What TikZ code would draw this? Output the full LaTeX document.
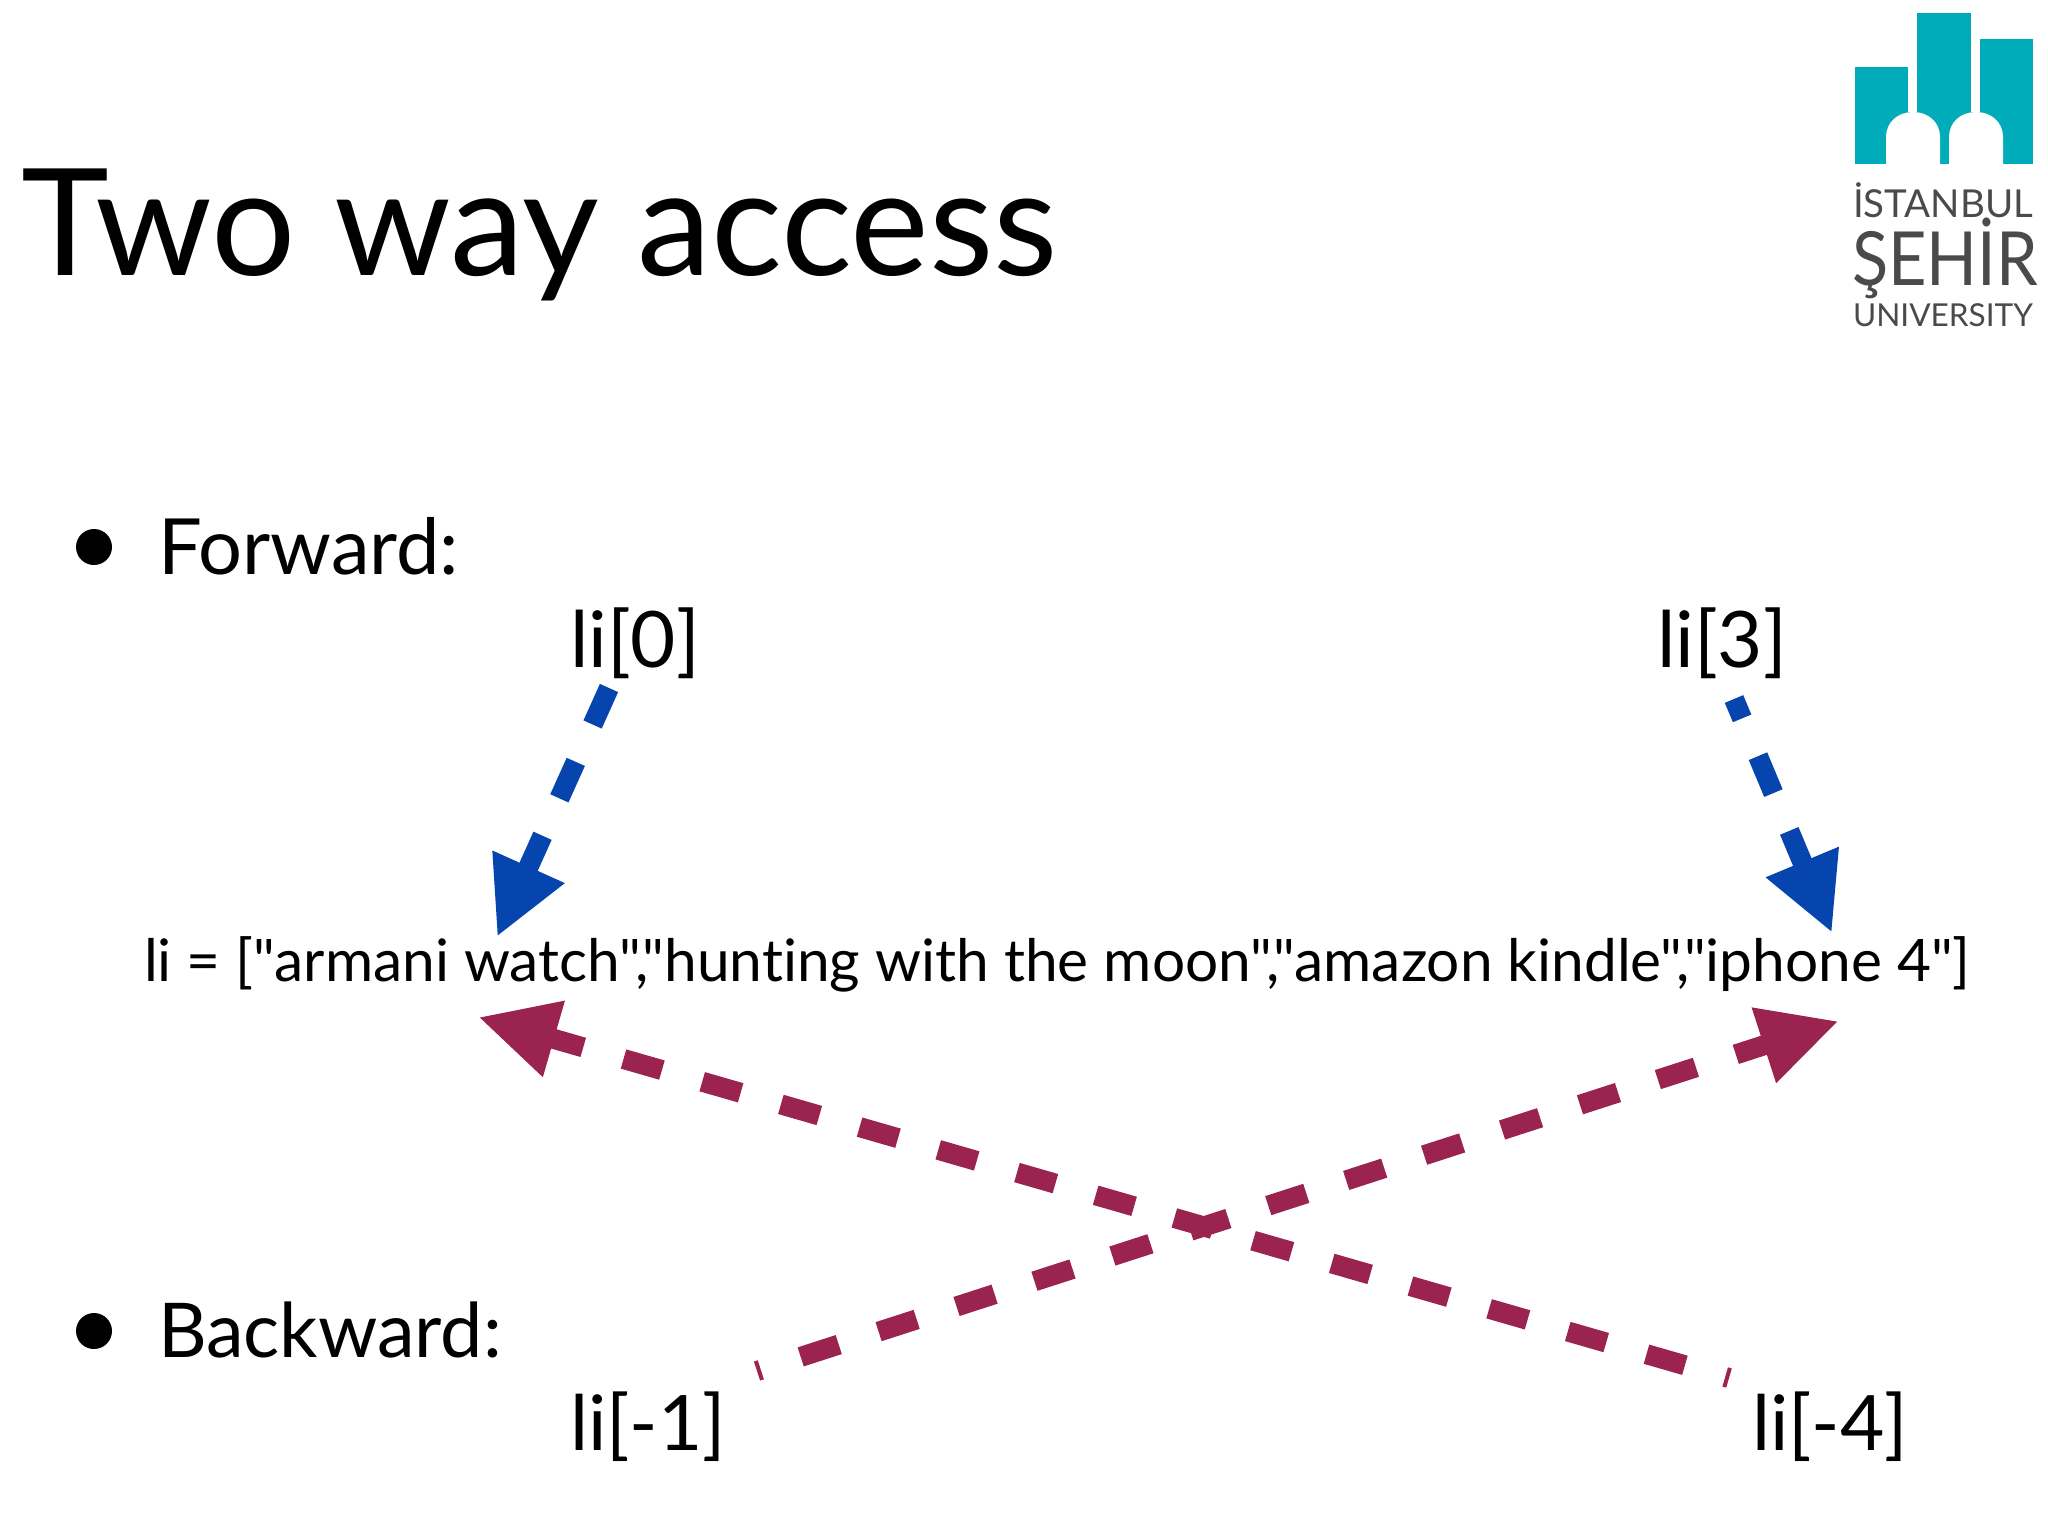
\documentclass[tikz,border=0pt]{standalone}
\usepackage{fontspec}
\usetikzlibrary{arrows.meta}
\setmainfont{Lato}[Ligatures={TeXOff,CommonOff}]
\definecolor{fwdblue}{HTML}{0645AD}
\definecolor{backred}{HTML}{9A2350}
\definecolor{logoteal}{HTML}{00ABBA}
\definecolor{logogray}{HTML}{4A4A4A}
\newcommand{\fit}[2]{\resizebox{#1pt}{!}{\strut #2}}
\tikzset{
  x=0.5pt,y=-0.5pt,
  txt/.style={inner sep=0pt,outer sep=0pt,anchor=base west,text=black},
  logotxt/.style={inner sep=0pt,outer sep=0pt,anchor=base west,text=logogray},
  bulletdot/.style={circle,fill=black,inner sep=0pt,minimum size=18pt},
  fwdarrow/.style={draw=fwdblue,line width=10pt,dash pattern=on 20pt off 20.5pt,-{Triangle[length=38.5pt,width=36.7pt,fill=fwdblue]}},
  backarrow/.style={draw=backred,line width=10pt,dash pattern=on 20pt off 20.95pt,dash phase=18pt,-{Triangle[length=39.5pt,width=36.7pt,fill=backred]}},
  logofill/.style={fill=logoteal,draw=none},
}
\begin{document}
\begin{tikzpicture}
\useasboundingbox (0,0) rectangle (2048,1536);
% logo
\fill[logofill] (1855,67) rectangle (1908,164);
\fill[logofill] (1917,13) rectangle (1971,164);
\fill[logofill] (1980,39) rectangle (2033,164);
\fill[logofill] (1855,112) rectangle (2033,164);
\fill[white] (1886,165) -- (1886,137) .. controls (1886,122) and (1898,112) .. (1913,112) .. controls (1928,112) and (1940,122) .. (1940,137) -- (1940,165) -- cycle;
\fill[white] (1949,165) -- (1949,137) .. controls (1949,122) and (1961,112) .. (1976,112) .. controls (1991,112) and (2003,122) .. (2003,137) -- (2003,165) -- cycle;
\node[logotxt] (logoa) at (1853,217) {\fit{90}{İSTANBUL}};
\node[logotxt] (logob) at (1852,285) {\scalebox{1}[1.12]{\fit{93}{ŞEHİR}}};
\node[logotxt] (logoc) at (1853,326) {\fit{90}{UNIVERSITY}};
% text
\node[txt] (title) at (21,275) {\fit{518}{Two way access}};
\node[bulletdot] (b1) at (94,547) {};
\node[txt] (fwd) at (158,574) {\fit{150.5}{Forward:}};
\node[bulletdot] (b2) at (94,1331) {};
\node[txt] (bwd) at (158,1357) {\fit{172}{Backward:}};
\node[txt] (li0) at (570,667) {\fit{65}{li[0]}};
\node[txt] (li3) at (1657,667) {\fit{65}{li[3]}};
\node[txt] (lst) at (144,981) {\fit{913}{li = ["armani watch","hunting with the moon","amazon kindle","iphone 4"]}};
\node[txt] (lim1) at (570,1450) {\fit{78}{li[-1]}};
\node[txt] (lim4) at (1752,1450) {\fit{78}{li[-4]}};
% connector ends
\coordinate (s0) at (609,688);
\coordinate (t0) at (497,937);
\coordinate (s3) at (1734,699);
\coordinate (t3) at (1832,933);
\coordinate (sm1) at (757,1371);
\coordinate (tm1) at (1839,1021);
\coordinate (sm4) at (1729,1378);
\coordinate (tm4) at (478,1017);
\draw[fwdarrow] (s0) -- (t0);
\draw[fwdarrow,dash phase=9.5pt] (s3) -- (t3);
\draw[backarrow] (sm1) -- (tm1);
\draw[backarrow] (sm4) -- (tm4);
\end{tikzpicture}
\end{document}
